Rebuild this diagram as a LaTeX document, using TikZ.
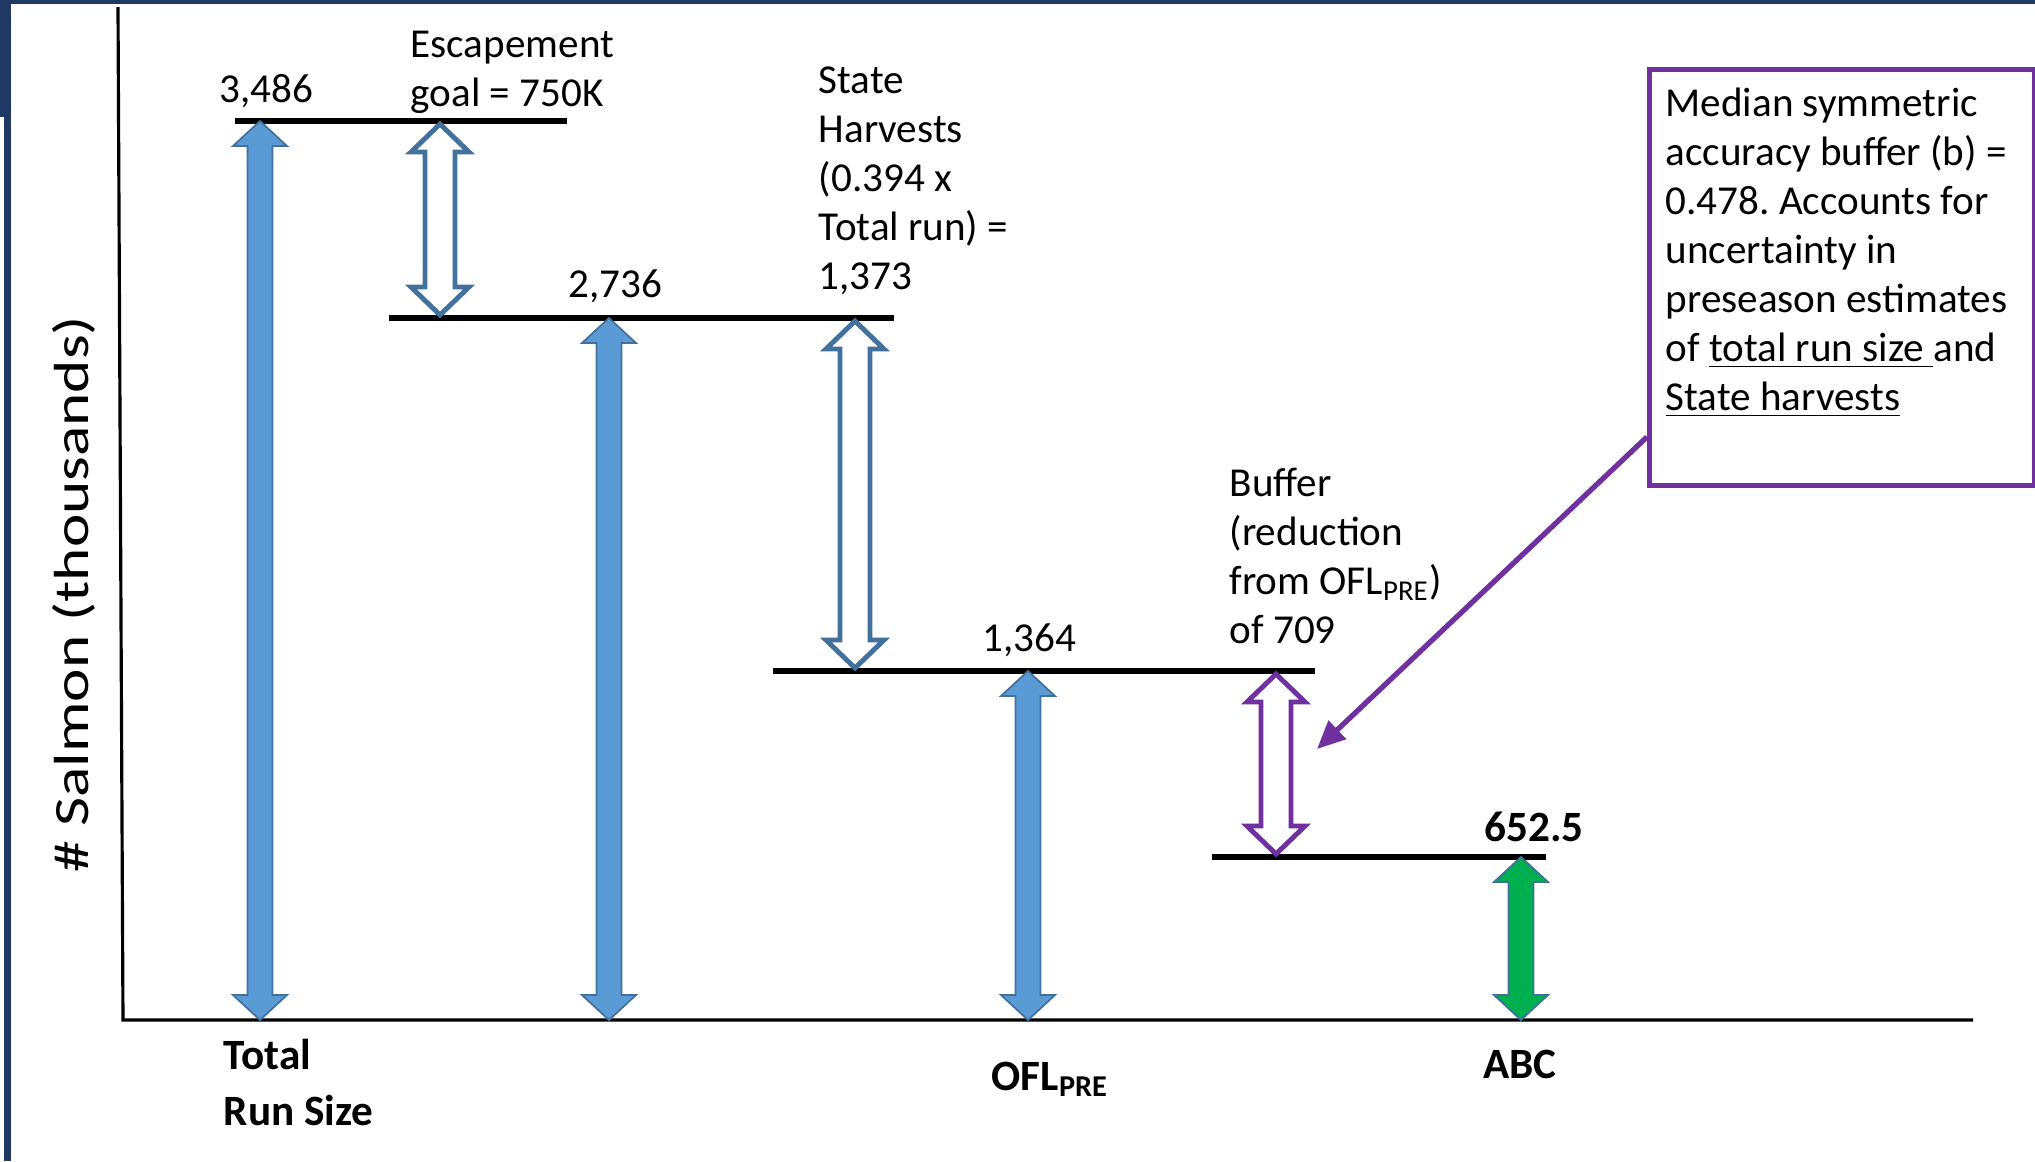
\documentclass[tikz,border=0pt]{standalone}
\usepackage{fontspec}
\setmainfont{Carlito}
\usetikzlibrary{arrows.meta}
\frenchspacing

\definecolor{slidenavy}{HTML}{1F3864}
\definecolor{fillblue}{HTML}{5B9BD5}
\definecolor{lineblue}{HTML}{41719C}
\definecolor{notepurple}{HTML}{7030A0}
\definecolor{abcgreen}{HTML}{00B050}

% block double arrow: style, x, top, bottom, shaft half, head half, head length
\newcommand{\blockarrow}[7]{%
  \draw[#1] (#2,#3) -- ({#2+#6},{#3+#7}) -- ({#2+#5},{#3+#7}) -- ({#2+#5},{#4-#7})
    -- ({#2+#6},{#4-#7}) -- (#2,#4) -- ({#2-#6},{#4-#7}) -- ({#2-#5},{#4-#7})
    -- ({#2-#5},{#3+#7}) -- ({#2-#6},{#3+#7}) -- cycle;}

\begin{document}
\begin{tikzpicture}[x=0.1mm,y=-0.1mm,
  lbl/.style={inner sep=0pt,font=\fontsize{11.7}{13.9}\selectfont,align=left},
  bold/.style={inner sep=0pt,font=\fontsize{12.3}{15.9}\selectfont\bfseries,align=left},
  axis/.style={line width=0.9pt},
  level/.style={line width=1.8pt},
  solid/.style={fill=fillblue,draw=lineblue,line width=0.5pt},
  hollow/.style={fill=white,draw=lineblue,line width=1.4pt},
  notebox/.style={draw=notepurple,line width=1.4pt,inner sep=0pt}]
  \useasboundingbox (0,0) rectangle (2035,1161);

  % Slide frame
  \fill[slidenavy] (0,0) rectangle (2035,4);
  \fill[slidenavy] (0,0) rectangle (11,117);
  \fill[slidenavy] (4,117) rectangle (11,1161);

  % Axes
  \coordinate (O) at (123,1020);
  \draw[axis] (118,7) -- (O) -- (1973,1020);
  \node[rotate=90,yscale=0.78,inner sep=0pt,font=\fontsize{18}{22}\selectfont] (ylab) at (74,594) {\# Salmon (thousands)};

  % Levels
  \draw[level] (235,121) -- (567,121);
  \draw[level] (389,318) -- (894,318);
  \draw[level] (773,671) -- (1315,671);
  \draw[level] (1212,857) -- (1546,857);

  % Filled arrows down to the axis
  \blockarrow{solid}{260}{121}{1020}{12.5}{27}{25}
  \blockarrow{solid}{609}{318}{1020}{12.5}{27}{25}
  \blockarrow{solid}{1028}{671}{1020}{12.5}{27}{25}
  \blockarrow{solid,fill=abcgreen}{1521}{857}{1020}{12.5}{27}{25}

  % Hollow arrows between levels
  \blockarrow{hollow}{440}{124}{315}{15}{29}{28}
  \blockarrow{hollow}{855}{321}{668}{15}{29}{28}
  \blockarrow{hollow,draw=notepurple}{1276}{674}{854}{15}{29}{28}

  % Values
  \node[lbl,anchor=base] (v3486) at (266,102) {3,486};
  \node[lbl,anchor=base] (v2736) at (615,297) {2,736};
  \node[lbl,anchor=base] (v1364) at (1029,651) {1,364};
  \node[bold,anchor=base] (v652) at (1534,841) {652.5};

  % Notes (base = last line)
  \node[lbl,anchor=base west] (esc) at (410,106) {Escapement\\goal = 750K};
  \node[lbl,anchor=base west] (harv) at (818,289) {State\\Harvests\\(0.394 x\\Total run) =\\1,373};
  \node[lbl,anchor=base west] (buf) at (1229,643) {Buffer\\(reduction\\from OFL\textsubscript{PRE})\\of 709};

  % Category labels
  \node[bold,anchor=base west] (total) at (223,1125) {Total\\Run Size};
  \node[bold,anchor=base west] (ofl) at (991,1090) {OFL\textsubscript{PRE}};
  \node[bold,anchor=base] (abc) at (1520,1078) {ABC};

  % Buffer note
  \node[notebox,anchor=north west,minimum width=3.85cm,minimum height=4.16cm] (note) at (1647,67) {};
  \node[lbl,anchor=base west] (notetext) at (1665,410) {Median symmetric\\accuracy buffer (b) =\\0.478. Accounts for\\uncertainty in\\preseason estimates\\of \underline{total run size\ }and\\\underline{State harvests}};
  \coordinate (buftip) at (1317,749);
  \draw[notepurple,line width=1.5pt,-{Triangle[length=8pt,width=7pt]}] ([yshift=0.51cm]note.south west) -- (buftip);
\end{tikzpicture}
\end{document}
